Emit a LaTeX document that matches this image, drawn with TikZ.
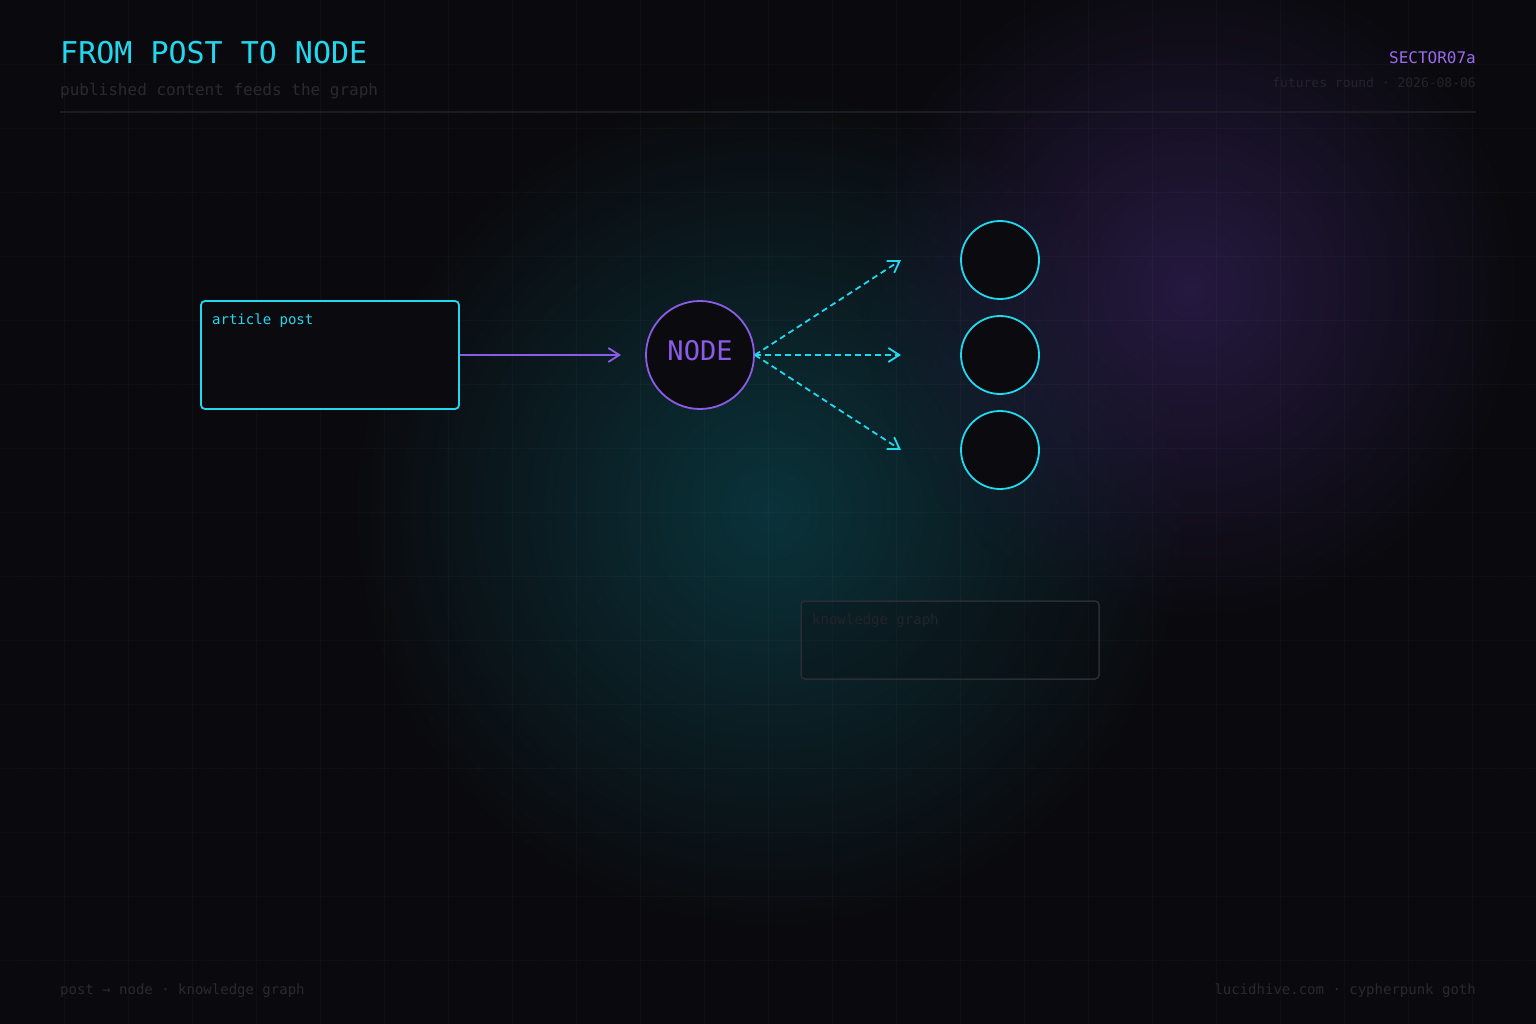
\documentclass[tikz,border=0pt]{standalone}
\usepackage{fontspec}
\setmonofont{DejaVu Sans Mono}
\usetikzlibrary{arrows.meta,fadings}
\definecolor{bgc}{HTML}{0A0A0E}
\definecolor{cyanc}{HTML}{22D8EE}
\definecolor{purc}{HTML}{8C5CE8}
\definecolor{purtxt}{HTML}{9A6AF0}
\definecolor{dimtxt}{HTML}{292930}
\definecolor{dimmer}{HTML}{23242B}
\definecolor{divc}{HTML}{1C1C24}
\definecolor{tealglow}{HTML}{0A3A42}
\definecolor{purglow}{HTML}{2A1C48}
\definecolor{boxfill}{HTML}{0B0B0F}
\definecolor{kgline}{HTML}{2A2C34}
\tikzfading[name=glowfade, inner color=transparent!0, outer color=transparent!100]
\tikzset{
  txt/.style={font=\ttfamily, inner sep=0pt},
  postbox/.style={draw=cyanc, line width=1.8pt, fill=boxfill, rounded corners=4pt, minimum width=258pt, minimum height=108pt, inner sep=0pt},
  kgbox/.style={draw=kgline, line width=1.5pt, fill=bgc, fill opacity=0.25, rounded corners=4pt, minimum width=298pt, minimum height=78pt, inner sep=0pt},
  hubnode/.style={circle, draw=purc, line width=1.8pt, fill=boxfill, minimum size=108pt, inner sep=0pt},
  leafnode/.style={circle, draw=cyanc, line width=1.8pt, fill=boxfill, minimum size=78pt, inner sep=0pt},
  solidarrow/.style={draw=purc, line width=1.8pt, -{Straight Barb[length=11pt,width=14pt,line width=1.8pt]}},
  dasharrow/.style={draw=cyanc, line width=1.8pt, dash pattern=on 6pt off 4pt, -{Straight Barb[length=11pt,width=14pt,line width=1.8pt]}}
}
\begin{document}
\begin{tikzpicture}[x=1pt,y=-1pt]
\useasboundingbox (0,0) rectangle (1536,1024);
\fill[bgc] (0,0) rectangle (1536,1024);
% glows
\fill[tealglow, path fading=glowfade, fill opacity=0.85] (770,510) circle (420);
\fill[purglow, path fading=glowfade, fill opacity=0.85] (1190,290) circle (330);
% grid
\foreach \gx in {64,128,...,1500} \draw[white, line width=0.8pt, opacity=0.025] (\gx,0) -- (\gx,1024);
\foreach \gy in {64,128,...,1000} \draw[white, line width=0.8pt, opacity=0.025] (0,\gy) -- (1536,\gy);
\foreach \dx in {24,48,...,1536} {
  \foreach \dy in {24,48,...,1024} {
    \fill[white, opacity=0.04] (\dx,\dy) circle (0.9);
  }
}
% header
\node[txt, anchor=base west, text=cyanc, font=\ttfamily\fontsize{30}{36}\selectfont] (title) at (60,64) {FROM POST TO NODE};
\node[txt, anchor=base west, text=dimtxt, font=\ttfamily\fontsize{16}{20}\selectfont] (subtitle) at (60,96) {published content feeds the graph};
\node[txt, anchor=base east, text=purtxt, font=\ttfamily\fontsize{16}{20}\selectfont] (sector) at (1476,64) {SECTOR07a};
\node[txt, anchor=base east, text=dimmer, font=\ttfamily\fontsize{13}{16}\selectfont] (round) at (1476,88) {futures round · 2026-08-06};
\coordinate (dl) at (60,112);
\coordinate (dr) at (1476,112);
\draw[divc, line width=1.2pt] (dl) -- (dr);
% post box
\node[postbox] (post) at (330,355) {};
\node[txt, anchor=base west, text=cyanc, font=\ttfamily\fontsize{14}{17}\selectfont] (postlabel) at (212,324) {article post};
% hub
\node[hubnode] (hub) at (700,355) {};
\node[txt, anchor=base, text=purc, font=\ttfamily\fontsize{27}{32}\selectfont] (hublabel) at (700,360) {NODE};
\coordinate (a0) at (621,355);
\draw[solidarrow] (post.east) -- (a0);
% leaves
\node[leafnode] (l1) at (1000,260) {};
\node[leafnode] (l2) at (1000,355) {};
\node[leafnode] (l3) at (1000,450) {};
\coordinate (t1) at (901,260);
\coordinate (t2) at (901,355);
\coordinate (t3) at (901,450);
\draw[dasharrow] (hub.east) -- (t1);
\draw[dasharrow] (hub.east) -- (t2);
\draw[dasharrow] (hub.east) -- (t3);
% knowledge graph
\node[kgbox] (kg) at (950,640) {};
\node[txt, anchor=base west, text=dimmer, font=\ttfamily\fontsize{14}{17}\selectfont] (kglabel) at (812,624) {knowledge graph};
% footer
\node[txt, anchor=base west, text=dimtxt, font=\ttfamily\fontsize{14}{17}\selectfont] (footl) at (60,994) {post → node · knowledge graph};
\node[txt, anchor=base east, text=dimtxt, font=\ttfamily\fontsize{14}{17}\selectfont] (footr) at (1476,994) {lucidhive.com · cypherpunk goth};
\end{tikzpicture}
\end{document}
